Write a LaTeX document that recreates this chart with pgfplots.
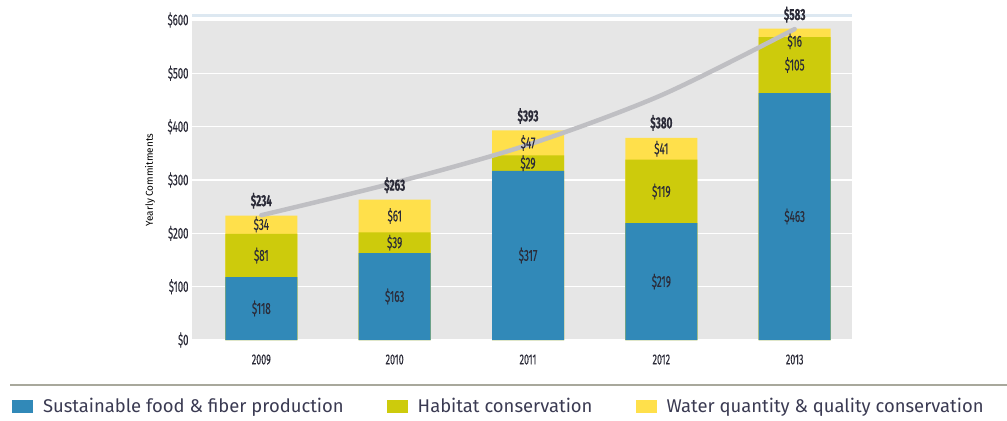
\documentclass[border=0pt]{standalone}
\usepackage{pgfplots}
\pgfplotsset{compat=1.18}
\usepackage{pgfplotstable}
\usepackage{fontspec}
\setmainfont{Fira Sans}
\newfontfamily\cond{Fira Sans}[FakeStretch=0.62, Numbers=Proportional, FakeBold=0.35]
\newfontfamily\semicond{Fira Sans}[FakeStretch=0.85]

\definecolor{foodblue}{HTML}{3189B8}
\definecolor{habolive}{HTML}{CDCB0C}
\definecolor{wateryel}{HTML}{FFE04B}
\definecolor{plotbg}{HTML}{E6E6E6}
\definecolor{trendgray}{HTML}{BFBFC3}
\definecolor{labeltxt}{HTML}{2B2B38}
\definecolor{legtxt}{HTML}{3A3A52}
\definecolor{rulegray}{HTML}{A8A89C}
\definecolor{topband}{HTML}{DDE8F1}

\pgfplotsset{
  sqlegend/.style={legend image code/.code={\fill[##1] (0bp,-6.5bp) rectangle (21bp,6.5bp);}},
  seglabel/.style={forget plot, draw=none, mark=none,
    nodes near coords={\$\pgfplotspointmeta}, point meta=explicit symbolic,
    nodes near coords style={anchor=center, font=\cond\fontsize{16}{16}\selectfont, text=labeltxt}},
}

% yearly commitments by program area ($)
\pgfplotstableread{
x food habitat water total trend wy
0 118  81 34 234 234 216.5
1 163  39 61 263 295 232.5
2 317  29 47 393 366 369.5
3 219 119 41 380 459 358.5
4 463 105 16 583 583 560
}\commit
\pgfplotstablecreatecol[create col/expr={\thisrow{food}+\thisrow{habitat}}]{fh}\commit
\pgfplotstablecreatecol[create col/expr={\thisrow{fh}+\thisrow{water}}]{fhw}\commit
\pgfplotstablecreatecol[create col/expr={\thisrow{food}/2}]{fm}\commit
\pgfplotstablecreatecol[create col/expr={\thisrow{food}+\thisrow{habitat}/2}]{hm}\commit

\begin{document}
\begin{tikzpicture}[x=1bp,y=1bp]
\useasboundingbox (0,0) rectangle (1007,420);
\draw[rulegray, line width=1.3bp] (10,35) -- (1007,35);
\begin{axis}[
  at={(192bp,80bp)}, anchor=south west,
  scale only axis, width=660bp, height=320bp,
  xmin=-0.52, xmax=4.43, ymin=0, ymax=600,
  clip=false,
  axis background/.style={fill=plotbg},
  axis line style={draw=none},
  major tick length=0pt,
  ytick={0,100,...,600},
  yticklabels={\$0,\$100,\$200,\$300,\$400,\$500,\$600},
  xtick={0,1,2,3,4},
  xticklabels={2009,2010,2011,2012,2013},
  ymajorgrids,
  grid style={white, line width=1.6bp},
  yticklabel style={font=\cond\fontsize{15.5}{15.5}\selectfont, text=labeltxt},
  xticklabel style={font=\cond\fontsize{14.5}{14.5}\selectfont, text=labeltxt, yshift=-11bp},
  ylabel={Yearly Commitments},
  ylabel style={font=\semicond\fontsize{13.5}{13.5}\selectfont, text=labeltxt},
  every axis y label/.style={at={(rel axis cs:0,0.5)}, xshift=-42bp, rotate=90, anchor=center},
  reverse legend,
  legend columns=3,
  legend style={at={(axis description cs:-0.2727,-0.2078)}, anchor=west,
    draw=none, fill=none, inner sep=0pt, outer sep=0pt,
    font=\fontsize{18.5}{18.5}\selectfont, text=legtxt,
    nodes={inner sep=0pt},
    /tikz/every odd column/.style={column sep=10bp},
    /tikz/every even column/.style={column sep=43bp}},
]
% stacked bars drawn as cumulative layers, tallest first
\addplot[ybar, bar width=0.54, bar shift=0pt, fill=wateryel, draw=none, sqlegend]
  table[x=x, y=fhw] {\commit};
\addlegendentry{Water quantity \& quality conservation}
\addplot[ybar, bar width=0.54, bar shift=0pt, fill=habolive, draw=none, sqlegend]
  table[x=x, y=fh] {\commit};
\addlegendentry{Habitat conservation}
\addplot[ybar, bar width=0.54, bar shift=0pt, fill=foodblue, draw=none, sqlegend]
  table[x=x, y=food] {\commit};
\addlegendentry{Sustainable food \& fiber production}

% growth trend line
\addplot[forget plot, smooth, trendgray, line width=4.5bp, line cap=round]
  table[x=x, y=trend] {\commit};

% segment values
\addplot[seglabel] table[x=x, y=fm, meta=food] {\commit};
\addplot[seglabel] table[x=x, y=hm, meta=habitat] {\commit};
\addplot[seglabel] table[x=x, y=wy, meta=water] {\commit};

% totals above each bar
\addplot[seglabel, nodes near coords style={anchor=south, yshift=3bp,
    font=\cond\bfseries\fontsize{16}{16}\selectfont}]
  table[x=x, y=total, meta=total] {\commit};

\draw[topband, line width=3bp] ([yshift=4.5bp]rel axis cs:0,1) -- ([yshift=4.5bp]rel axis cs:1,1);
\end{axis}
\end{tikzpicture}
\end{document}
